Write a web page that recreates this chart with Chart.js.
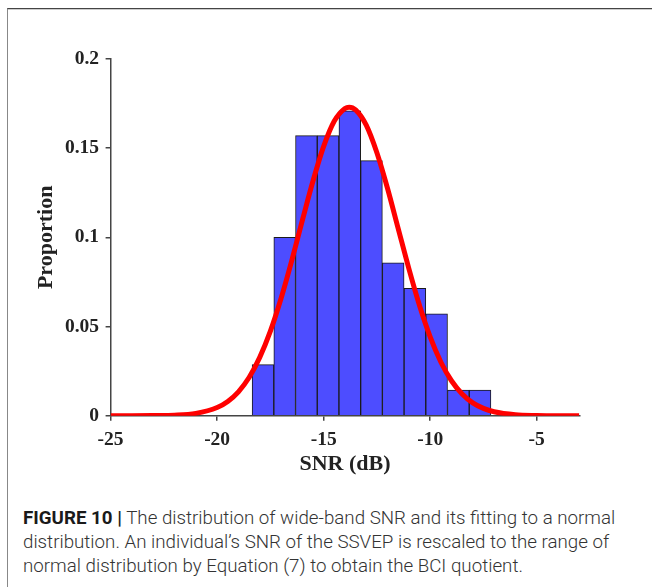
<!DOCTYPE html>
<html>
<head>
<meta charset="utf-8">
<script src="https://cdn.jsdelivr.net/npm/chart.js@4.4.1/dist/chart.umd.min.js"></script>
<style>
  body { margin: 0; background: #fff; }
  #wrap { position: relative; width: 652px; height: 587px; overflow: hidden; }
  #frame { position: absolute; left: 7px; top: 8px; right: -20px; bottom: -20px;
           border-top: 1px solid #444; border-left: 1px solid #888; box-shadow: inset 0 1px 0 #ccc; }
  #chart { position: absolute; left: 0; top: 0; }
  #caption { position: absolute; left: 23px; top: 506px; font-family: Roboto, "Liberation Sans", sans-serif;
             font-size: 17.5px; font-weight: 300; line-height: 24px; color: #333; }
  #caption div { white-space: nowrap; transform-origin: 0 0; }
  #caption b { color: #1a1a1a; font-weight: 700; }
</style>
</head>
<body>
<div id="wrap">
  <div id="frame"></div>
  <canvas id="chart" width="652" height="495"></canvas>
  <div id="caption">
    <div><b>FIGURE 10 |</b> The distribution of wide-band SNR and its fitting to a normal</div>
    <div>distribution. An individual’s SNR of the SSVEP is rescaled to the range of</div>
    <div>normal distribution by Equation (7) to obtain the BCI quotient.</div>
  </div>
</div>
<script>
// histogram (bin centres in dB, proportion of subjects)
const binCenters = [-17.848, -16.829, -15.81, -14.791, -13.772, -12.753, -11.734, -10.715, -9.696, -8.677, -7.658];
const proportions = [0.0286, 0.100, 0.157, 0.157, 0.171, 0.143, 0.0857, 0.0714, 0.0571, 0.0143, 0.0143];

// fitted normal curve
const fitX = [-25, -24, -23, -22, -21, -20, -19.5, -19, -18.5, -18, -17.5, -17, -16.5, -16, -15.5, -15, -14.5, -14,
  -13.8, -13.5, -13, -12.5, -12, -11.5, -11, -10.5, -10, -9.5, -9, -8.5, -8, -7.5, -7, -6, -5, -4, -3];
const fitY = [0, 0, 0.0001, 0.0003, 0.0013, 0.0046, 0.008, 0.0134, 0.0214, 0.0327, 0.0474, 0.0657, 0.0868, 0.1095,
  0.1316, 0.151, 0.1652, 0.1723, 0.173, 0.1715, 0.1629, 0.1474, 0.1274, 0.1049, 0.0825, 0.0618, 0.0442, 0.0301,
  0.0196, 0.0122, 0.0072, 0.0041, 0.0022, 0.0005, 0.0001, 0, 0];

const xTicks = [-25, -20, -15, -10, -5];
const yTicks = [0, 0.05, 0.1, 0.15, 0.2];

const serif = { family: '"Liberation Serif", "Times New Roman", serif', weight: 'bold' };
const axisColor = '#444';

new Chart(document.getElementById('chart'), {
  data: {
    datasets: [
      {
        type: 'line',
        data: fitX.map((x, i) => ({ x: x, y: fitY[i] })),
        borderColor: '#ff0000',
        borderWidth: 5,
        pointRadius: 0,
        cubicInterpolationMode: 'monotone',
        fill: false,
        order: 0,
      },
      {
        type: 'bar',
        data: binCenters.map((x, i) => ({ x: x, y: proportions[i] })),
        backgroundColor: '#4d4dff',
        borderColor: '#1a1a1a',
        borderWidth: 1,
        barPercentage: 1,
        categoryPercentage: 1,
        order: 1,
      },
    ],
  },
  options: {
    responsive: false,
    animation: false,
    layout: { padding: { left: 30, right: 72.7, top: 59, bottom: 0 } },
    plugins: { legend: { display: false }, tooltip: { enabled: false } },
    scales: {
      x: {
        type: 'linear',
        min: -25,
        max: -3,
        offset: false,
        afterBuildTicks: (s) => { s.ticks = xTicks.map(v => ({ value: v })); },
        afterFit: (s) => { s.height = 79.3; },
        grid: { offset: false, drawOnChartArea: false, tickLength: 5, color: axisColor, lineWidth: 1.5 },
        border: { color: axisColor, width: 1.5 },
        ticks: { color: '#222', padding: 8, font: { ...serif, size: 19.5 }, callback: (v) => String(v) },
        title: { display: true, text: 'SNR (dB)', color: '#222', font: { ...serif, size: 22 }, padding: { top: 0, bottom: 17 } },
      },
      y: {
        min: 0,
        max: 0.2,
        afterBuildTicks: (s) => { s.ticks = yTicks.map(v => ({ value: v })); },
        afterFit: (s) => { s.width = 80.6; },
        grid: { drawOnChartArea: false, tickLength: 5, color: axisColor, lineWidth: 1.5 },
        border: { color: axisColor, width: 1.5 },
        ticks: { color: '#222', padding: 6.5, font: { ...serif, size: 19.5 }, callback: (v) => String(v) },
        title: { display: true, text: 'Proportion', color: '#222', font: { ...serif, size: 22 }, padding: { top: 3, bottom: 0 } },
      },
    },
  },
});

// squeeze the caption lines to the width of the printed caption
const lines = document.querySelectorAll('#caption div');
const k = 592 / lines[0].scrollWidth;
lines.forEach(l => { l.style.transform = 'scaleX(' + k + ')'; });
</script>
</body>
</html>
